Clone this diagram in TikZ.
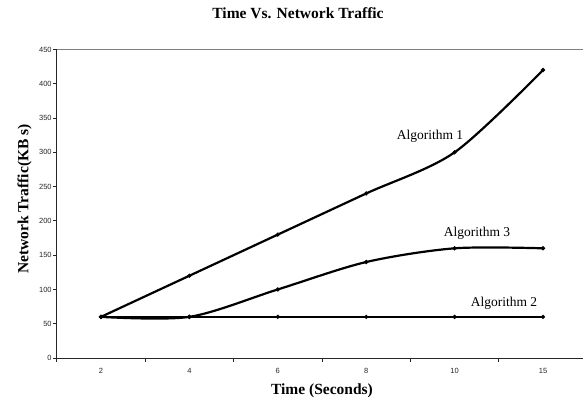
\documentclass[tikz,border=0pt]{standalone}
\usepackage{fontspec}
\setmainfont{Liberation Serif}
\newfontfamily\arialfont{Liberation Sans}
\usetikzlibrary{shapes.geometric}
\tikzset{
  curve/.style={line width=2.2pt, black},
  mk/.style={diamond, fill=black, inner sep=0pt, minimum size=4.8pt},
  ticklab/.style={font=\arialfont\fontsize{7.5}{9}\selectfont, text=black!85},
  titlelab/.style={font=\bfseries\fontsize{15.5}{18}\selectfont},
  alglab/.style={font=\fontsize{13.5}{16}\selectfont},
  axisline/.style={line width=0.9pt, black!85},
  frameline/.style={line width=0.8pt, black!50},
}
\begin{document}
\begin{tikzpicture}[x=1pt,y=1pt]
\useasboundingbox (0,0) rectangle (583,402);
% titles
\node[titlelab] (title) at (298,389) {Time Vs. Network Traffic};
\node[titlelab] (xtitle) at (322,11) {Time (Seconds)};
\node[titlelab, rotate=90] (ytitle) at (24.5,203) {Network Traffic(KB s)};
\begin{scope}[shift={(101,44)}, x=88.4pt, y=0.6856pt]
  % frame
  \coordinate (tl) at (-0.5,450);
  \coordinate (tr) at (5.45,450);
  \coordinate (bl) at (-0.5,0);
  \coordinate (br) at (5.45,0);
  \draw[frameline] (tl) -- (tr);
  \draw[axisline] (bl) -- (br);
  \draw[axisline] (bl) -- (tl);
  % y ticks
  \foreach \v in {0,50,...,450} {
    \draw[axisline] (-0.5,\v) -- ++(-3.5pt,0);
    \node[ticklab, anchor=east, inner sep=0pt] (yl\v) at ([xshift=-5pt]-0.5,\v) {\v};
  }
  % x ticks
  \foreach \k in {0,...,5} {
    \draw[axisline] (\k-0.5,0) -- ++(0,-3.5pt);
  }
  \foreach \lab [count=\i from 0] in {2,4,6,8,10,15} {
    \node[ticklab, inner sep=0pt] (xl\i) at ([yshift=-13pt]\i,0) {\lab};
  }
  % curves
  \draw[curve] plot[smooth, tension=0.5] coordinates {(0,60) (1,120) (2,180) (3,240) (4,300) (5,420)};
  \draw[curve] plot[smooth, tension=0.5] coordinates {(0,60) (1,60) (2,100) (3,140) (4,160) (5,160)};
  \draw[curve] (0,60) -- (5,60);
  % markers
  \foreach \v [count=\i from 0] in {60,120,180,240,300,420} {\node[mk] (a\i) at (\i,\v) {};}
  \foreach \v [count=\i from 0] in {60,60,100,140,160,160} {\node[mk] (c\i) at (\i,\v) {};}
  \foreach \v [count=\i from 0] in {60,60,60,60,60,60} {\node[mk] (b\i) at (\i,\v) {};}
\end{scope}
% series labels
\node[alglab] (alg1) at (430,266) {Algorithm 1};
\node[alglab] (alg3) at (477,169) {Algorithm 3};
\node[alglab] (alg2) at (504,99) {Algorithm 2};
\end{tikzpicture}
\end{document}
